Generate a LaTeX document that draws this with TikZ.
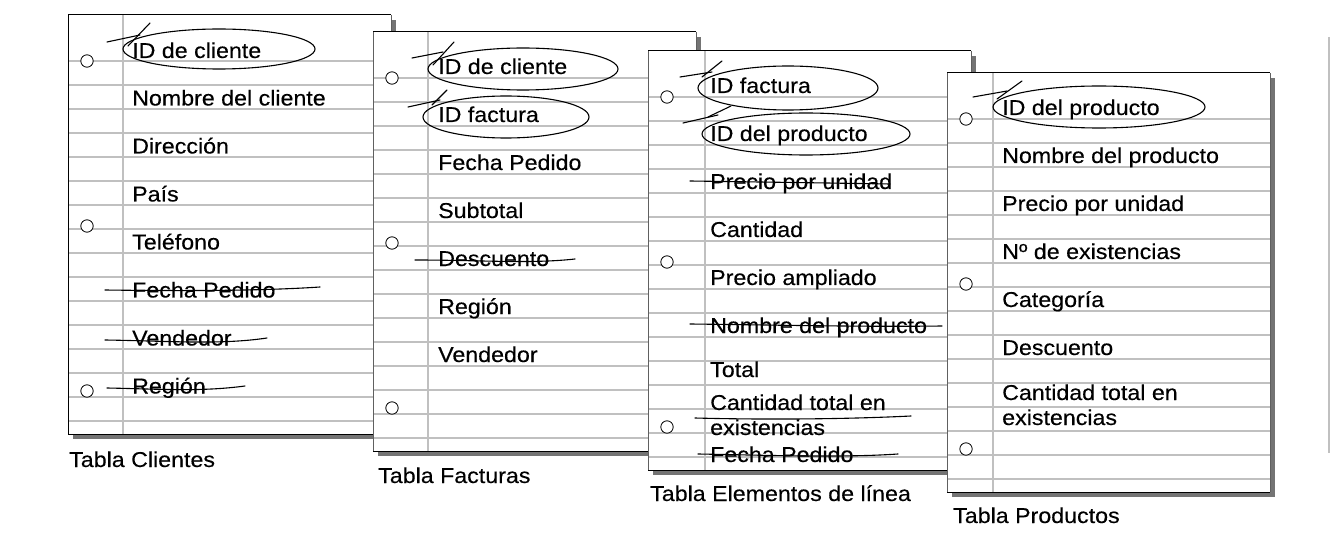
\documentclass[tikz,border=0pt]{standalone}
\usepackage{fontspec}
\setmainfont{Liberation Sans}[FakeStretch=1.08, FakeBold=0.3]
\definecolor{rulec}{HTML}{C0C0C0}
\definecolor{shadowc}{HTML}{747474}
\definecolor{edgec}{HTML}{606060}
\tikzset{
  rule/.style={draw=rulec, line width=1.5pt},
  hole/.style={draw=black, fill=white, line width=0.8pt},
  item/.style={anchor=base west, inner sep=0pt, font=\fontsize{21.5}{24}\selectfont},
  caption/.style={anchor=base west, inner sep=0pt, font=\fontsize{21.5}{24}\selectfont},
  hand/.style={draw=black, line width=1.1pt, line cap=round},
}
% #1 left, #2 top, #3 margin offset
\newcommand\drawsheet[3]{%
  \fill[shadowc] (#1+5,#2+5) rectangle (#1+328,#2+424);
  \fill[white] (#1,#2) rectangle (#1+323,#2+419);
  \foreach \k in {0,...,15} \draw[rule] (#1,#2+46+24*\k) -- (#1+323,#2+46+24*\k);
  \draw[rule] (#1+#3,#2) -- (#1+#3,#2+419);
  \draw[edgec, line width=1pt] (#1,#2) -- (#1,#2+419);
  \draw[edgec, line width=1pt] (#1+323,#2) -- (#1+323,#2+419);
  \draw[black, line width=1pt] (#1,#2) -- (#1+323,#2);
  \draw[black, line width=1pt] (#1,#2+419) -- (#1+323,#2+419);
  \foreach \h in {0,165,330} \draw[hole] (#1+19,#2+46+\h) circle (6.2);
}
\begin{document}
\begin{tikzpicture}[x=1pt, y=-1pt]
\useasboundingbox (0,0) rectangle (1342,540);

% ---------------- Tabla Clientes ----------------
\drawsheet{68}{15}{55}
\draw[black, line width=1pt] (68,15) -- (68,434);
\node[item] (c1) at (132,58) {ID de cliente};
\node[item] (c2) at (132,105.5) {Nombre del cliente};
\node[item] (c3) at (132,153.5) {Dirección};
\node[item] (c4) at (132,201.5) {País};
\node[item] (c5) at (132,249.5) {Teléfono};
\node[item] (c6) at (132,297.5) {Fecha Pedido};
\node[item] (c7) at (132,345.5) {Vendedor};
\node[item] (c8) at (132,393.5) {Región};
\draw[hand] (219,49) ellipse [x radius=96, y radius=20];
\draw[hand] (107,42) -- (140,35);
\draw[hand] (128,46) -- (150,23);
\draw[hand] (105,290) .. controls (180,291) and (260,291) .. (320,287);
\draw[hand] (105,340) .. controls (170,341) and (220,345) .. (267,338);
\draw[hand] (107,388) .. controls (160,389) and (200,392) .. (245,386);
\node[caption] (capc) at (69,467) {Tabla Clientes};

% ---------------- Tabla Facturas ----------------
\drawsheet{373}{32}{55}
\node[item] (f1) at (438,74) {ID de cliente};
\node[item] (f2) at (438,122) {ID factura};
\node[item] (f3) at (438,170) {Fecha Pedido};
\node[item] (f4) at (438,218) {Subtotal};
\node[item] (f5) at (438,266) {Descuento};
\node[item] (f6) at (438,314) {Región};
\node[item] (f7) at (438,362) {Vendedor};
\draw[hand] (523,69) ellipse [x radius=95, y radius=21];
\draw[hand] (412,58) -- (443,52);
\draw[hand] (433,65) -- (454,42);
\draw[hand] (506,117) ellipse [x radius=83, y radius=21];
\draw[hand] (408,107) -- (440,100);
\draw[hand] (432,105) -- (447,90);
\draw[hand] (415,260) .. controls (480,260) and (530,264) .. (575,259);
\node[caption] (capf) at (378,483) {Tabla Facturas};

% ---------------- Tabla Elementos de línea ----------------
\drawsheet{648}{51}{57}
\node[item] (e1) at (710,93) {ID factura};
\node[item] (e2) at (710,141) {ID del producto};
\node[item] (e3) at (710,189) {Precio por unidad};
\node[item] (e4) at (710,237) {Cantidad};
\node[item] (e5) at (710,285) {Precio ampliado};
\node[item] (e6) at (710,333) {Nombre del producto};
\node[item] (e7) at (710,377) {Total};
\node[item] (e8) at (710,410) {Cantidad total en};
\node[item] (e9) at (710,435) {existencias};
\node[item] (e10) at (710,462) {Fecha Pedido};
\draw[hand] (788,88) ellipse [x radius=90, y radius=22];
\draw[hand] (680,77) -- (712,72);
\draw[hand] (702,77) -- (722,61);
\draw[hand] (806,134) ellipse [x radius=104, y radius=21];
\draw[hand] (683,123) -- (718,115);
\draw[hand] (708,117) -- (731,106);
\draw[hand] (690,181) .. controls (760,182) and (830,183) .. (890,184);
\draw[hand] (690,324) .. controls (780,325) and (860,327) .. (942,326);
\draw[hand] (695,418) .. controls (770,420) and (850,419) .. (911,416);
\draw[hand] (698,454) .. controls (760,455) and (840,458) .. (898,454);
\node[caption] (cape) at (650,501) {Tabla Elementos de línea};

% ---------------- Tabla Productos ----------------
\drawsheet{947}{73}{46}
\node[item] (p1) at (1002,115) {ID del producto};
\node[item] (p2) at (1002,163) {Nombre del producto};
\node[item] (p3) at (1002,211) {Precio por unidad};
\node[item] (p4) at (1002,259) {Nº de existencias};
\node[item] (p5) at (1002,307) {Categoría};
\node[item] (p6) at (1002,355) {Descuento};
\node[item] (p7) at (1002,400) {Cantidad total en};
\node[item] (p8) at (1002,425) {existencias};
\draw[hand] (1099,107) ellipse [x radius=106, y radius=21];
\draw[hand] (973,97) -- (1007,91);
\draw[hand] (997,99) -- (1022,81);
\node[caption] (capp) at (953,523) {Tabla Productos};

% right divider
\draw[draw=rulec, line width=2pt] (1329,37) -- (1329,453);
\end{tikzpicture}
\end{document}
